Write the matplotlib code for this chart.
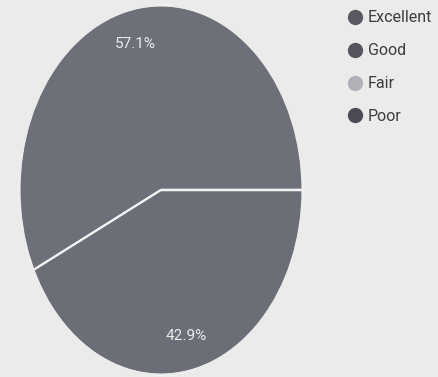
import matplotlib
matplotlib.use("Agg")
import matplotlib.pyplot as plt
from matplotlib.lines import Line2D
from matplotlib.patches import Circle

categories = ["Excellent", "Good", "Fair", "Poor"]
counts = [4, 3, 0, 0]
wedge_colors = ["#6e7079", "#6c6e77", "#b9bac0", "#55565d"]
legend_colors = ["#585961", "#55565d", "#b0b1b7", "#4b4c53"]

plt.rcParams['font.family'] = ['Roboto', 'DejaVu Sans']

bg = "#ebebeb"
fig = plt.figure(figsize=(4.39, 3.77), dpi=100, facecolor=bg)
ax = fig.add_axes([19/439, 2/377, 284/439, 370/377])
ax.set_facecolor(bg)

wedges, texts, autotexts = ax.pie(
    counts, colors=wedge_colors, startangle=0, counterclock=True,
    autopct=lambda p: f"{p:.1f}%" if p > 0 else "", pctdistance=0.81,
    wedgeprops=dict(edgecolor="#f2f2f2", linewidth=1.6),
    textprops=dict(color="#ececec", fontsize=11))
ax.add_patch(Circle((0, 0), 1.0, fill=False, edgecolor=bg, linewidth=2.2))
ax.set_aspect('auto')
ax.set_xlim(-1, 1)
ax.set_ylim(-1, 1)
ax.axis('off')

handles = [Line2D([0], [0], marker='o', linestyle='none', markersize=10,
                  markerfacecolor=c, markeredgecolor=c) for c in legend_colors]
fig.legend(handles, categories, loc='upper left', bbox_to_anchor=(339/439, 1 - 4/377),
           frameon=False, fontsize=11.5, labelspacing=1.12, handletextpad=0.2,
           handlelength=1.2, labelcolor="#3c3c3c", borderaxespad=0)

fig.savefig("out.png", dpi=100, facecolor=bg)
